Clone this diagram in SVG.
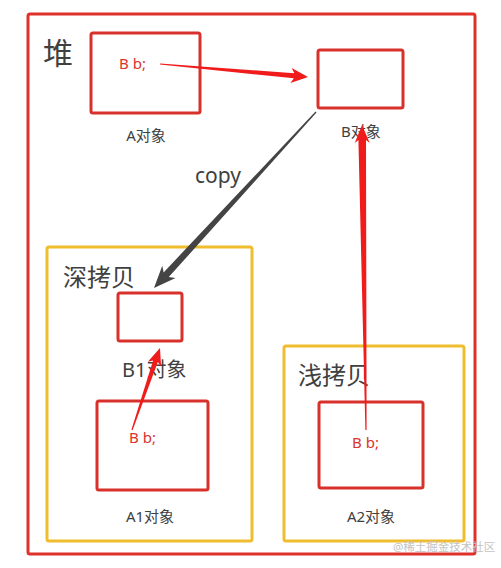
<svg xmlns="http://www.w3.org/2000/svg" width="501" height="568" viewBox="0 0 501 568">
<style>
.box{fill:none;stroke:#d8302a;stroke-width:3}
.grp{fill:none;stroke:#efbd2e;stroke-width:3}
.t{font-family:"Noto Sans","Noto Sans CJK SC",sans-serif;fill:#404040}
.r{font-family:"Noto Sans","Noto Sans CJK SC",sans-serif;fill:#d9342c;font-size:15px}
.lbl{font-size:15px;text-anchor:middle}
.ar{fill:#f01b1b}
</style>
<rect x="0" y="0" width="501" height="568" fill="#ffffff"/>
<g id="heap">
<rect x="28" y="14" width="447" height="540" rx="2" fill="none" stroke="#e0302a" stroke-width="3"/>
<text class="t" x="43" y="64" font-size="30">堆</text>
</g>
<g id="deep-copy">
<rect class="grp" x="47" y="247" width="205" height="294" rx="2"/>
<text class="t" x="63" y="286" font-size="24">深拷贝</text>
</g>
<g id="shallow-copy">
<rect class="grp" x="284" y="346" width="180" height="195" rx="2"/>
<text class="t" x="298" y="384" font-size="24">浅拷贝</text>
</g>
<g id="A">
<rect class="box" x="91" y="33" width="109" height="80" rx="2"/>
<text class="r" x="119" y="69">B b;</text>
<text class="t lbl" x="146" y="141">A对象</text>
</g>
<g id="B">
<rect class="box" x="318" y="50" width="85" height="58" rx="2"/>
<text class="t lbl" x="361" y="137">B对象</text>
</g>
<g id="B1">
<rect class="box" x="118" y="293" width="64" height="48" rx="2"/>
<text class="t" x="122" y="377" font-size="20">B1对象</text>
</g>
<g id="A1">
<rect class="box" x="97" y="401" width="111" height="89" rx="2"/>
<text class="r" x="129" y="443">B b;</text>
<text class="t lbl" x="150" y="522">A1对象</text>
</g>
<g id="A2">
<rect class="box" x="319" y="402" width="104" height="86" rx="2"/>
<text class="r" x="352" y="448">B b;</text>
<text class="t lbl" x="371" y="522">A2对象</text>
</g>
<g id="connectors">
<polygon class="ar" transform="translate(160,64) rotate(5.02)" points="0,-0.6 134.6,-2.5 131.6,-7.5 148.6,0 131.6,7.5 134.6,2.5 0,0.6"/>
<polygon fill="#444444" transform="translate(316,112) rotate(132.63)" points="0,-0.7 221.2,-3.5 217.2,-9 239.2,0 217.2,9 221.2,3.5 0,0.7"/>
<text class="t" x="195" y="183" font-size="21">copy</text>
<polygon class="ar" transform="translate(132,430) rotate(-71.15)" points="0,-0.6 72.6,-2.5 69.6,-7 86.6,0 69.6,7 72.6,2.5 0,0.6"/>
<polygon class="ar" transform="translate(366,430) rotate(-90.75)" points="0,-0.6 290,-3.8 287,-7.5 305,0 287,7.5 290,3.8 0,0.6"/>
</g>
<text x="393" y="551" font-family="Noto Sans,Noto Sans CJK SC,sans-serif" font-size="11.5" fill="#c4c4c4">@稀土掘金技术社区</text>
</svg>
